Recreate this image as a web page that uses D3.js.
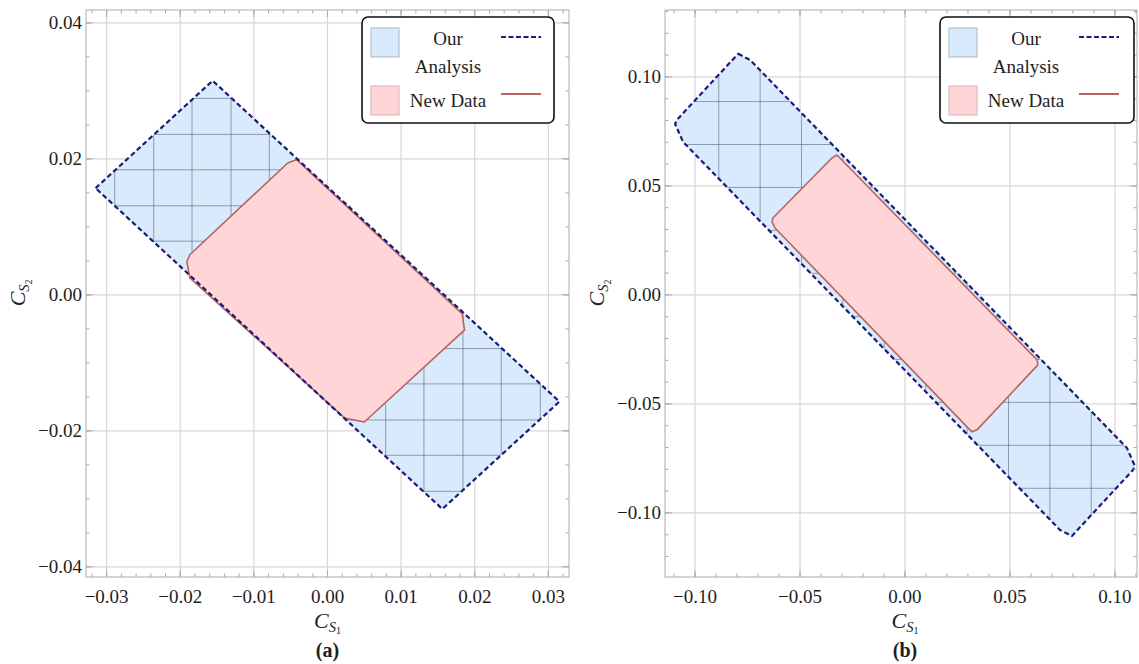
<!DOCTYPE html>
<html><head><meta charset="utf-8">
<script src="https://cdn.jsdelivr.net/npm/d3@7"></script>
<style>
body{margin:0;background:#fff;}
svg{display:block;font-family:"Liberation Serif","Times New Roman",serif;}
</style></head>
<body><svg id="chart" width="1139" height="664"></svg>
<script>
// ---------- data ----------
const xTicksA = [-0.03, -0.02, -0.01, 0.00, 0.01, 0.02, 0.03];
const yTicksA = [-0.04, -0.02, 0.00, 0.02, 0.04];
const xTicksB = [-0.10, -0.05, 0.00, 0.05, 0.10];
const yTicksB = [-0.10, -0.05, 0.00, 0.05, 0.10];

const meshA = [-0.0289, -0.0236, -0.0184, -0.0131, -0.0079, -0.0026, 0.0026, 0.0079, 0.0131, 0.0184, 0.0236, 0.0289];
const meshB = [-0.0887, -0.0690, -0.0493, -0.0296, -0.0099, 0.0099, 0.0296, 0.0493, 0.0690, 0.0887];

const analysisA = [[-0.0315, 0.0157], [-0.0156, 0.0315], [0.0315, -0.0157], [0.0156, -0.0315]];
const newDataA = [[-0.0042, 0.0199], [-0.0054, 0.0194], [-0.0187, 0.0059], [-0.0191, 0.0049], [-0.0187, 0.0025],
                  [0.0023, -0.0181], [0.0050, -0.0187], [0.0186, -0.0052], [0.0183, -0.0028]];

const analysisB = [[-0.0795, 0.1106], [-0.0738, 0.1078], [0.1057, -0.0702], [0.1095, -0.0785], [0.1086, -0.0803],
                   [0.0795, -0.1106], [0.0738, -0.1078], [-0.1057, 0.0702], [-0.1095, 0.0785], [-0.1086, 0.0803]];
const newDataB = [[-0.0324, 0.0642], [-0.0348, 0.0628], [-0.0629, 0.0353], [-0.0633, 0.0335], [-0.0619, 0.0307],
                  [0.0300, -0.0610], [0.0319, -0.0628], [0.0343, -0.0619], [0.0633, -0.0321], [0.0629, -0.0298]];

const legendLabels = [["Our", "Analysis"], ["New Data"]];
const panelLabels = ["(a)", "(b)"];

// ---------- styles ----------
const C = {
  blueFill: "#d8eafb", blueStroke: "#1c1c78",
  pinkFill: "#ffd5d8", pinkStroke: "#b5655f",
  grid: "#d6d6d6", frame: "#ababab", mesh: "#56687a", text: "#1e1e1e"
};

const svg = d3.select("#chart");

function panel(cfg) {
  const x = d3.scaleLinear().domain(cfg.xDom).range([cfg.left, cfg.right]);
  const y = d3.scaleLinear().domain(cfg.yDom).range([cfg.bottom, cfg.top]);
  const g = svg.append("g");
  const id = cfg.id;

  g.append("clipPath").attr("id", "frame" + id).append("rect")
    .attr("x", cfg.left).attr("y", cfg.top)
    .attr("width", cfg.right - cfg.left).attr("height", cfg.bottom - cfg.top);

  // gridlines
  const grid = g.append("g").attr("clip-path", `url(#frame${id})`);
  grid.selectAll(".gx").data(cfg.xTicks).join("line")
    .attr("x1", d => x(d)).attr("x2", d => x(d))
    .attr("y1", cfg.top).attr("y2", cfg.bottom)
    .attr("stroke", C.grid).attr("stroke-width", 1.2);
  grid.selectAll(".gy").data(cfg.yTicks).join("line")
    .attr("y1", d => y(d)).attr("y2", d => y(d))
    .attr("x1", cfg.left).attr("x2", cfg.right)
    .attr("stroke", C.grid).attr("stroke-width", 1.2);

  const line = d3.line().x(d => x(d[0])).y(d => y(d[1])).curve(d3.curveLinearClosed);

  // blue region
  g.append("clipPath").attr("id", "blue" + id).append("path").attr("d", line(cfg.analysis));
  g.append("path").attr("d", line(cfg.analysis)).attr("fill", C.blueFill);
  const mesh = g.append("g").attr("clip-path", `url(#blue${id})`);
  mesh.selectAll(".mx").data(cfg.mesh).join("line")
    .attr("x1", d => x(d)).attr("x2", d => x(d))
    .attr("y1", cfg.top).attr("y2", cfg.bottom)
    .attr("stroke", C.mesh).attr("stroke-opacity", 0.6).attr("stroke-width", 1);
  mesh.selectAll(".my").data(cfg.mesh).join("line")
    .attr("y1", d => y(d)).attr("y2", d => y(d))
    .attr("x1", cfg.left).attr("x2", cfg.right)
    .attr("stroke", C.mesh).attr("stroke-opacity", 0.6).attr("stroke-width", 1);

  // pink region
  g.append("path").attr("d", line(cfg.newData))
    .attr("fill", C.pinkFill).attr("stroke", C.pinkStroke).attr("stroke-width", 1.6)
    .attr("stroke-linejoin", "round");

  // blue dashed boundary
  g.append("path").attr("d", line(cfg.analysis))
    .attr("fill", "none").attr("stroke", C.blueStroke).attr("stroke-width", 2.2)
    .attr("stroke-dasharray", "5,3").attr("stroke-linejoin", "round");

  // frame
  g.append("rect").attr("x", cfg.left).attr("y", cfg.top)
    .attr("width", cfg.right - cfg.left).attr("height", cfg.bottom - cfg.top)
    .attr("fill", "none").attr("stroke", C.frame).attr("stroke-width", 1);

  // ticks (major + minor) on all four sides
  const xMinor = d3.range(Math.ceil(cfg.xDom[0] / cfg.xMinor), Math.floor(cfg.xDom[1] / cfg.xMinor) + 1).map(k => k * cfg.xMinor);
  const yMinor = d3.range(Math.ceil(cfg.yDom[0] / cfg.yMinor), Math.floor(cfg.yDom[1] / cfg.yMinor) + 1).map(k => k * cfg.yMinor);
  const tk = g.append("g").attr("stroke", C.frame).attr("stroke-width", 1);
  [[cfg.bottom, -1], [cfg.top, 1]].forEach(([yy, s]) => {
    tk.selectAll(null).data(xMinor).join("line")
      .attr("x1", d => x(d)).attr("x2", d => x(d)).attr("y1", yy).attr("y2", yy + s * 3.5);
    tk.selectAll(null).data(cfg.xTicks).join("line")
      .attr("x1", d => x(d)).attr("x2", d => x(d)).attr("y1", yy).attr("y2", yy + s * 7);
  });
  [[cfg.left, 1], [cfg.right, -1]].forEach(([xx, s]) => {
    tk.selectAll(null).data(yMinor).join("line")
      .attr("y1", d => y(d)).attr("y2", d => y(d)).attr("x1", xx).attr("x2", xx + s * 3.5);
    tk.selectAll(null).data(cfg.yTicks).join("line")
      .attr("y1", d => y(d)).attr("y2", d => y(d)).attr("x1", xx).attr("x2", xx + s * 7);
  });

  // tick labels
  const fmt = d3.format(".2f");
  g.selectAll(".xl").data(cfg.xTicks).join("text")
    .attr("x", d => x(d)).attr("y", 603).attr("text-anchor", "middle")
    .attr("font-size", 19).attr("fill", C.text).text(d => fmt(d));
  g.selectAll(".yl").data(cfg.yTicks).join("text")
    .attr("x", cfg.left - 4).attr("y", d => y(d) + 6).attr("text-anchor", "end")
    .attr("font-size", 19).attr("fill", C.text).text(d => fmt(d));

  // axis labels
  const cx = x(0);
  const xl = g.append("text").attr("x", cx).attr("y", 628).attr("text-anchor", "middle")
    .attr("fill", C.text).attr("font-style", "italic");
  xl.append("tspan").attr("font-size", 22).text("C");
  xl.append("tspan").attr("font-size", 14.5).attr("dy", 3.5).text("S");
  xl.append("tspan").attr("font-size", 10).attr("dy", 2.5).attr("font-style", "normal").text("1");

  const yl = g.append("text").attr("transform", `translate(${cfg.left - 61},${y(0) - 2}) rotate(-90)`)
    .attr("text-anchor", "middle").attr("fill", C.text).attr("font-style", "italic");
  yl.append("tspan").attr("font-size", 22).text("C");
  yl.append("tspan").attr("font-size", 14.5).attr("dy", 4).text("S");
  yl.append("tspan").attr("font-size", 10).attr("dy", 3).attr("font-style", "normal").text("2");

  g.append("text").attr("x", cx).attr("y", 657).attr("text-anchor", "middle")
    .attr("font-size", 20).attr("font-weight", "bold").attr("fill", C.text).text(cfg.label);

  // legend
  const L = cfg.legend;
  const lg = g.append("g");
  lg.append("rect").attr("x", L.x).attr("y", L.y).attr("width", L.w).attr("height", L.h)
    .attr("rx", 6).attr("fill", "#fff").attr("stroke", "#111").attr("stroke-width", 1.6);
  const rows = [
    { fill: C.blueFill, sw: "#a9b7c4", stroke: C.blueStroke, dash: "5,2.5", sy: 11, text: legendLabels[0] },
    { fill: C.pinkFill, sw: "#d9b0b2", stroke: C.pinkStroke, dash: null, sy: 69, text: legendLabels[1] }
  ];
  rows.forEach(r => {
    lg.append("rect").attr("x", L.x + 9).attr("y", L.y + r.sy).attr("width", 28).attr("height", 29)
      .attr("fill", r.fill).attr("stroke", r.sw).attr("stroke-width", 1);
    r.text.forEach((t, i) => {
      lg.append("text").attr("x", L.x + 86).attr("y", L.y + r.sy + 17 + (r.text.length > 1 ? i * 28 : 4))
        .attr("text-anchor", "middle").attr("font-size", 19).attr("fill", C.text).text(t);
    });
    lg.append("line").attr("x1", L.x + 139).attr("x2", L.x + 179)
      .attr("y1", L.y + r.sy + (r.dash ? 9 : 8)).attr("y2", L.y + r.sy + (r.dash ? 9 : 8))
      .attr("stroke", r.stroke).attr("stroke-width", 2)
      .attr("stroke-dasharray", r.dash);
  });
}

panel({
  id: "A", left: 86, right: 569, top: 10, bottom: 577,
  xDom: [-0.0328, 0.0328], yDom: [-0.0415, 0.0419],
  xTicks: xTicksA, yTicks: yTicksA, xMinor: 0.002, yMinor: 0.005,
  mesh: meshA, analysis: analysisA, newData: newDataA, label: panelLabels[0],
  legend: { x: 362, y: 17, w: 192, h: 106 }
});
panel({
  id: "B", left: 665, right: 1137, top: 10, bottom: 577,
  xDom: [-0.1143, 0.1105], yDom: [-0.1294, 0.1307],
  xTicks: xTicksB, yTicks: yTicksB, xMinor: 0.01, yMinor: 0.01,
  mesh: meshB, analysis: analysisB, newData: newDataB, label: panelLabels[1],
  legend: { x: 940, y: 17, w: 194, h: 106 }
});
</script></body></html>
